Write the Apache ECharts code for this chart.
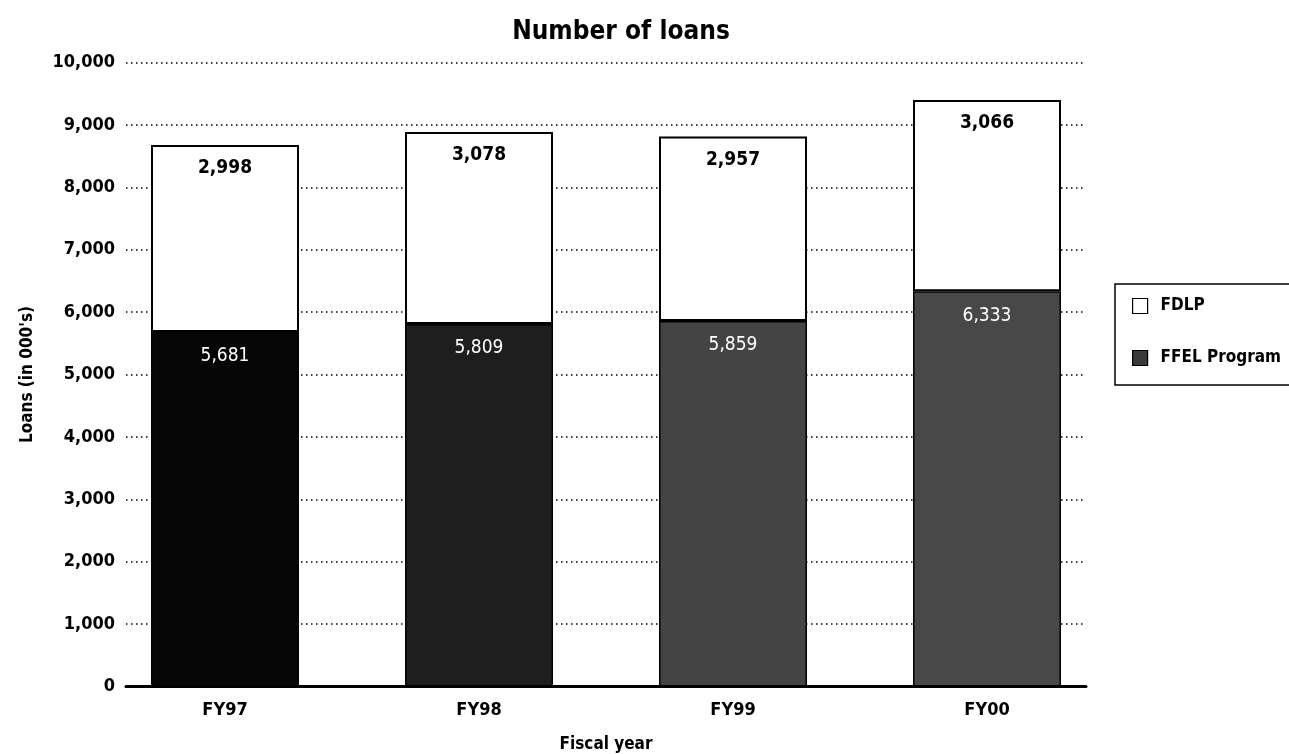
<!DOCTYPE html>
<html>
<head>
<meta charset="utf-8">
<script src="https://cdn.jsdelivr.net/npm/echarts@6/dist/echarts.min.js"></script>
<style>html,body{margin:0;padding:0;background:#fff;}#c{width:1289px;height:754px;}</style>
</head>
<body>
<div id="c"></div>
<script>
var categories = ['FY97', 'FY98', 'FY99', 'FY00'];
var ffel = [5681, 5809, 5859, 6333];
var fdlp = [2998, 3078, 2957, 3066];
var yTicks = [0, 1000, 2000, 3000, 4000, 5000, 6000, 7000, 8000, 9000, 10000];

var ffelShades = ['#060606', '#1e1e1e', '#444444', '#484848'];
var FONT = '"Liberation Sans Narrow", "DejaVu Sans Condensed", "Roboto Condensed", Arial, sans-serif';
function fmt(v) { return v.toLocaleString('en-US'); }

var chart = echarts.init(document.getElementById('c'));
chart.setOption({
  backgroundColor: '#fff',
  animation: false,
  title: {
    text: 'Number of loans',
    left: 616, top: 14, textAlign: 'center',
    textStyle: { fontFamily: FONT, fontWeight: 'bold', fontSize: 26, color: '#000' }
  },
  legend: {
    orient: 'vertical',
    left: 1115, top: 284,
    padding: [12, 60, 17, 17],
    itemGap: 32,
    itemWidth: 15, itemHeight: 15,
    borderColor: '#000', borderWidth: 1.5,
    textStyle: { fontFamily: FONT, fontWeight: 'bold', fontSize: 17, color: '#000', padding: [0, 0, 0, 8], lineHeight: 20 },
    data: [
      { name: 'FDLP', icon: 'rect', itemStyle: { color: '#fff', borderColor: '#000', borderWidth: 1.2 } },
      { name: 'FFEL Program', icon: 'rect', itemStyle: { color: '#3a3a3a', borderColor: '#000', borderWidth: 1.2 } }
    ]
  },
  grid: [
    { left: 126, right: 203, top: 62.5, bottom: 754 - 686.5, containLabel: false, outerBoundsMode: 'none' },
    { left: 98, width: 1016, top: 62.5, bottom: 754 - 686.5, containLabel: false, outerBoundsMode: 'none' }
  ],
  xAxis: [
    {
      gridIndex: 0, type: 'value', min: 0, max: 1,
      name: 'Fiscal year', nameLocation: 'middle', nameGap: 50,
      nameTextStyle: { fontFamily: FONT, fontWeight: 'bold', fontSize: 17, color: '#000' },
      axisLine: { show: true, lineStyle: { color: '#000', width: 3 } },
      axisTick: { show: false }, axisLabel: { show: false }, splitLine: { show: false }
    },
    {
      gridIndex: 1, type: 'category', data: categories,
      axisLine: { show: false }, axisTick: { show: false }, splitLine: { show: false },
      axisLabel: { margin: 15, fontFamily: FONT, fontWeight: 'bold', fontSize: 18, color: '#000' }
    }
  ],
  yAxis: [
    {
      gridIndex: 0, type: 'value', min: 0, max: 10000, interval: 1000,
      name: "Loans (in 000's)", nameLocation: 'middle', nameGap: 90, nameRotate: 90,
      nameTextStyle: { fontFamily: FONT, fontWeight: 'bold', fontSize: 17, color: '#000' },
      axisLine: { show: false }, axisTick: { show: false },
      axisLabel: {
        margin: 11, fontFamily: FONT, fontWeight: 'bold', fontSize: 18, color: '#000',
        formatter: function (v) { return yTicks.indexOf(v) >= 0 ? fmt(v) : ''; }
      },
      splitLine: { show: true, lineStyle: { color: '#000', width: 1.5, type: [1.5, 3.5] } }
    },
    {
      gridIndex: 1, type: 'value', min: 0, max: 10000, interval: 1000,
      axisLine: { show: false }, axisTick: { show: false }, axisLabel: { show: false }, splitLine: { show: false }
    }
  ],
  series: [
    {
      name: 'FFEL Program', type: 'bar', stack: 'loans', barWidth: 148,
      xAxisIndex: 1, yAxisIndex: 1,
      data: ffel,
      itemStyle: {
        color: function (p) { return ffelShades[p.dataIndex]; },
        borderColor: '#000', borderWidth: 1.5
      },
      label: {
        show: true, position: 'insideTop', distance: 15,
        fontFamily: FONT, fontSize: 19, fontWeight: 'normal', color: '#fff',
        formatter: function (p) { return fmt(p.value); }
      }
    },
    {
      name: 'FDLP', type: 'bar', stack: 'loans', barWidth: 148,
      xAxisIndex: 1, yAxisIndex: 1,
      data: fdlp,
      itemStyle: { color: '#fff', borderColor: '#000', borderWidth: 2 },
      label: {
        show: true, position: 'insideTop', distance: 14,
        fontFamily: FONT, fontSize: 19, fontWeight: 'bold', color: '#000',
        formatter: function (p) { return fmt(p.value); }
      }
    }
  ]
});
</script>
</body>
</html>
